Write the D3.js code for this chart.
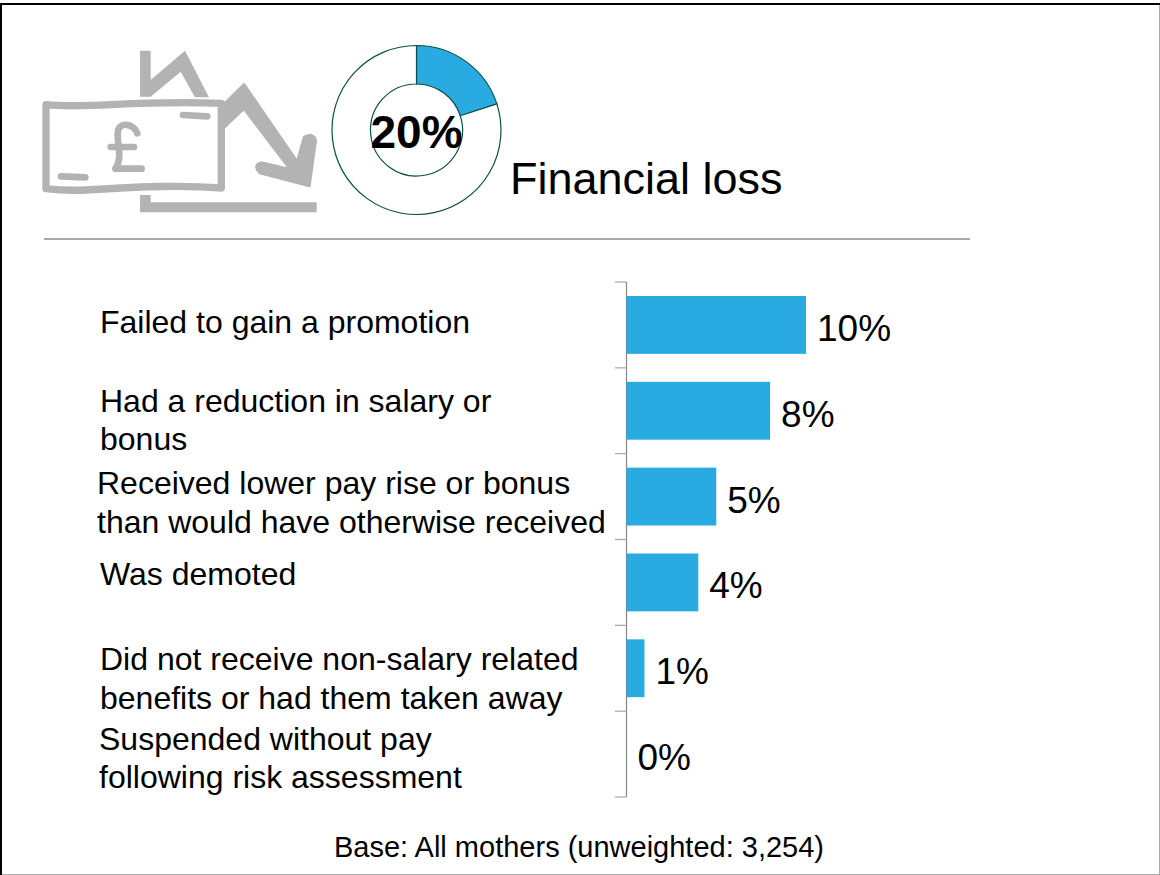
<!DOCTYPE html>
<html><head><meta charset="utf-8">
<script src="https://cdn.jsdelivr.net/npm/d3@7"></script>
<style>html,body{margin:0;padding:0;background:#fff}svg{display:block}text{font-family:"Liberation Sans",Arial,sans-serif;fill:#000}</style>
</head><body><svg id="c" width="1160" height="875"></svg>
<script>
const categories=["Failed to gain a promotion","Had a reduction in salary or bonus","Received lower pay rise or bonus than would have otherwise received","Was demoted","Did not receive non-salary related benefits or had them taken away","Suspended without pay following risk assessment"];
const categoryLines=[["Failed to gain a promotion"],["Had a reduction in salary or","bonus"],["Received lower pay rise or bonus","than would have otherwise received"],["Was demoted"],["Did not receive non-salary related","benefits or had them taken away"],["Suspended without pay","following risk assessment"]];
const labelOffsets=[[100,-2],[100,10],[97,7],[100,-7],[100,11],[99,5]];
const values=[10,8,5,4,1,0];
const donutValues=[20,80];
const donutLabel="20%";
const title="Financial loss";
const footnote="Base: All mothers (unweighted: 3,254)";

const svg=d3.select("#c");
svg.append("line").attr("x1",1159.5).attr("x2",1159.5).attr("y1",4).attr("y2",875).attr("stroke","#aaa");
svg.append("line").attr("x1",0).attr("x2",1160).attr("y1",874.5).attr("y2",874.5).attr("stroke","#aaa");
svg.append("line").attr("x1",0).attr("x2",1160).attr("y1",4).attr("y2",4).attr("stroke","#000").attr("stroke-width",2);
svg.append("line").attr("x1",1).attr("x2",1).attr("y1",3).attr("y2",875).attr("stroke","#000").attr("stroke-width",2);

const grey="#b3b3b3";
const ic=svg.append("g").attr("transform","translate(20,20) scale(0.3333)");
ic.append("path").attr("fill",grey).attr("d","M360,92H392V180L495,92L567,232H525L482,155L392,230H360Z");
ic.append("path").attr("fill",grey).attr("d","M360,525H392V547H890V577H360Z");
ic.append("path").attr("fill",grey).attr("stroke",grey).attr("stroke-width",8).attr("stroke-linejoin","round")
  .attr("d","M610,255L672,193L832,425L852,352Q858,345 872,346Q888,350 887,364L868,498L722,460Q708,450 710,437Q716,428 730,429L810,448L672,266L610,325Z");
ic.append("path").attr("fill","#fff").attr("stroke",grey).attr("stroke-width",22).attr("stroke-linejoin","round")
  .attr("d","M78,254C200,268 330,240 604,250L604,504C450,492 300,505 200,510C150,512 110,510 78,506Z");
ic.append("g").attr("fill","none").attr("stroke",grey).attr("stroke-width",20).attr("stroke-linecap","round").selectAll("path")
  .data(["M489,285L562,289","M123,469L196,472","M272,381H342","M287,446H365","M352,340C345,312 295,300 293,340C292,380 308,410 287,446"])
  .join("path").attr("d",d=>d);

const donut=svg.append("g").attr("transform","translate(416.5,130)");
const arc=d3.arc().innerRadius(46).outerRadius(84.5);
donut.selectAll("path").data(d3.pie().sort(null)(donutValues)).join("path")
  .attr("d",arc).attr("fill",(d,i)=>i===0?"#29abe2":"#fff").attr("stroke","#0b4f45").attr("stroke-width",1.2);
donut.append("text").attr("x",0).attr("y",18).attr("text-anchor","middle").attr("font-size",46).attr("font-weight","bold").text(donutLabel);

svg.append("text").attr("x",510).attr("y",194).attr("font-size",45).text(title);
svg.append("line").attr("x1",44).attr("x2",970).attr("y1",239).attr("y2",239).attr("stroke","#aaa").attr("stroke-width",2);

const x=d3.scaleLinear().domain([0,10]).range([626.5,806]);
const y=d3.scaleBand().domain(categories).range([282,797]).paddingInner(0.326).paddingOuter(0.163);
const step=y.step();
const ax=svg.append("g");
ax.append("line").attr("x1",626.5).attr("x2",626.5).attr("y1",282).attr("y2",797).attr("stroke","#868686").attr("stroke-width",1.2);
ax.selectAll("line.t").data(d3.range(categories.length+1)).join("line").attr("class","t")
  .attr("x1",615).attr("x2",626.5).attr("y1",i=>282+i*step).attr("y2",i=>282+i*step).attr("stroke","#a6a6a6").attr("stroke-width",1.2);
svg.selectAll("rect.b").data(values).join("rect").attr("class","b")
  .attr("x",x(0)).attr("y",(d,i)=>y(categories[i])).attr("width",d=>x(d)-x(0)).attr("height",y.bandwidth()).attr("fill","#29abe2");
svg.selectAll("text.v").data(values).join("text").attr("class","v")
  .attr("x",d=>x(d)+11).attr("y",(d,i)=>y(categories[i])+y.bandwidth()/2+16)
  .attr("font-size",37).text(d=>d+"%");
categoryLines.forEach((ls,i)=>{
  const cy=y(categories[i])+y.bandwidth()/2;
  const lh=38.5;
  ls.forEach((l,j)=>{
    svg.append("text").attr("x",labelOffsets[i][0])
      .attr("y",cy+labelOffsets[i][1]+10+(j-(ls.length-1)/2)*lh).attr("font-size",32).text(l);
  });
});
svg.append("text").attr("x",579).attr("y",857).attr("text-anchor","middle").attr("font-size",29).text(footnote);
</script></body></html>
